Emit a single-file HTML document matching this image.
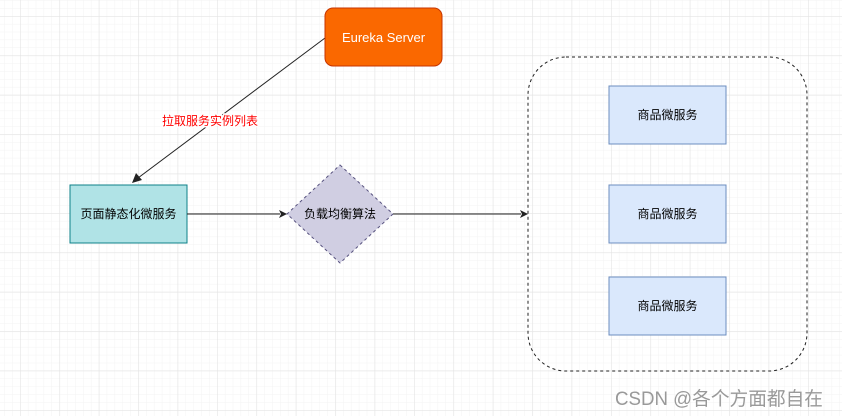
<!DOCTYPE html>
<html><head><meta charset="utf-8"><style>
html,body{margin:0;padding:0;width:842px;height:416px;overflow:hidden;background:#fff}
svg{display:block}
text{font-family:"Liberation Sans","Noto Sans CJK SC",sans-serif}
</style></head><body>
<svg width="842" height="416" viewBox="0 0 842 416" xmlns="http://www.w3.org/2000/svg">
<defs>
<pattern id="minor" x="20" y="16" width="7.88" height="7.88" patternUnits="userSpaceOnUse">
<path d="M0 0H7.88M0 0V7.88" stroke="#f3f3f3" stroke-width="1" fill="none"/></pattern>
<pattern id="major" x="20" y="16" width="39.4" height="39.4" patternUnits="userSpaceOnUse">
<path d="M0 0H39.4M0 0V39.4" stroke="#e4e4e4" stroke-width="1.2" fill="none"/></pattern>
</defs>
<rect width="842" height="416" fill="#fff"/>
<rect width="842" height="416" fill="url(#minor)"/>
<rect width="842" height="416" fill="url(#major)"/>

<line x1="325" y1="38" x2="138" y2="178" stroke="#222" stroke-width="1"/>
<polygon points="132,183 136,173 142,180" fill="#222"/>
<text x="210" y="125" font-size="12" fill="#ff0000" text-anchor="middle" style="paint-order:stroke" stroke="#fff" stroke-width="3">拉取服务实例列表</text>

<rect x="325" y="8" width="117" height="58" rx="8" fill="#fa6800" stroke="#c73500"/>
<text x="383.5" y="42" font-size="13" fill="#fff" text-anchor="middle">Eureka Server</text>

<rect x="70" y="185" width="117" height="58" fill="#b0e3e6" stroke="#0e8088"/>
<text x="128.5" y="218" font-size="12" fill="#000" text-anchor="middle">页面静态化微服务</text>

<line x1="187" y1="214" x2="280" y2="214" stroke="#222"/>
<polygon points="287,214 279,210 281,214 279,218" fill="#222"/>

<polygon points="340,165 393,214 340,263 287,214" fill="#d0cee2" stroke="#56517e" stroke-dasharray="3,3"/>
<text x="340" y="218" font-size="12" fill="#000" text-anchor="middle">负载均衡算法</text>

<line x1="393" y1="214" x2="521" y2="214" stroke="#222"/>
<polygon points="528,214 520,210 522,214 520,218" fill="#222"/>

<rect x="528" y="57" width="279" height="314" rx="38" fill="none" stroke="#222" stroke-dasharray="3,3"/>

<rect x="609" y="86" width="117" height="58" fill="#dae8fc" stroke="#6c8ebf"/>
<text x="667.5" y="119" font-size="12" text-anchor="middle">商品微服务</text>
<rect x="609" y="185" width="117" height="58" fill="#dae8fc" stroke="#6c8ebf"/>
<text x="667.5" y="218" font-size="12" text-anchor="middle">商品微服务</text>
<rect x="609" y="277" width="117" height="58" fill="#dae8fc" stroke="#6c8ebf"/>
<text x="667.5" y="310" font-size="12" text-anchor="middle">商品微服务</text>

<text x="615" y="405" font-size="19" fill="#999" textLength="208" lengthAdjust="spacingAndGlyphs">CSDN @各个方面都自在</text>
</svg>
</body></html>
